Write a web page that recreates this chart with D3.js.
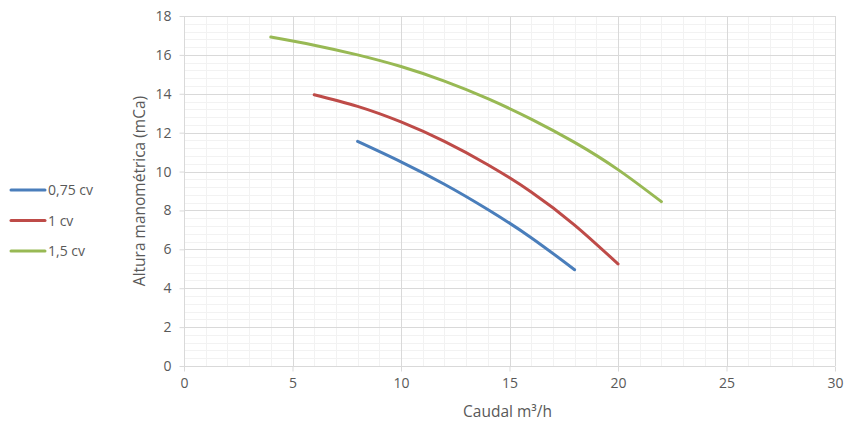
<!DOCTYPE html>
<html><head><meta charset="utf-8">
<script src="https://cdn.jsdelivr.net/npm/d3@7"></script>
<style>body{margin:0;background:#fff;} text{font-family:"Open Sans","Liberation Sans",sans-serif;}</style>
</head><body>
<svg id="c" width="845" height="421"></svg>
<script>
const seriesNames = ["0,75 cv", "1 cv", "1,5 cv"];
const seriesColors = ["#4A7EBB", "#BE4B48", "#98B954"];
const caudal075 = [8, 10, 12, 14, 16, 18];
const altura075 = [11.55, 10.5, 9.35, 8.05, 6.6, 4.95];
const caudal1 = [6, 8, 10, 12, 14, 16, 18, 20];
const altura1 = [13.95, 13.35, 12.55, 11.55, 10.35, 8.95, 7.25, 5.25];
const caudal15 = [4, 6, 8, 10, 12, 14, 16, 18, 20, 22];
const altura15 = [16.92, 16.5, 16.0, 15.4, 14.65, 13.75, 12.7, 11.5, 10.1, 8.45];
const xTicks = [0, 5, 10, 15, 20, 25, 30];
const yTicks = [0, 2, 4, 6, 8, 10, 12, 14, 16, 18];
const xTitle = "Caudal m³/h";
const yTitle = "Altura manométrica (mCa)";

const series = [
  caudal075.map((q, i) => [q, altura075[i]]),
  caudal1.map((q, i) => [q, altura1[i]]),
  caudal15.map((q, i) => [q, altura15[i]])
];

const svg = d3.select("#c");
const x = d3.scaleLinear().domain([0, 30]).range([184, 835]);
const y = d3.scaleLinear().domain([0, 18]).range([366, 16]);

// minor grid
const xMinor = d3.range(0, 30.001, 1).filter(v => v % 5 !== 0);
const yMinor = d3.range(0, 18.001, 0.4).filter(v => Math.abs(v/2 - Math.round(v/2)) > 1e-6);
const g = svg.append("g");
g.selectAll(".xm").data(xMinor).join("line")
  .attr("x1", d => Math.round(x(d)) + 0.5).attr("x2", d => Math.round(x(d)) + 0.5)
  .attr("y1", y(0)).attr("y2", y(18)).attr("stroke", "#F2F2F2");
g.selectAll(".ym").data(yMinor).join("line")
  .attr("y1", d => Math.round(y(d)) + 0.5).attr("y2", d => Math.round(y(d)) + 0.5)
  .attr("x1", x(0)).attr("x2", x(30)).attr("stroke", "#F2F2F2");
// major grid
g.selectAll(".xM").data(xTicks.slice(1)).join("line")
  .attr("x1", d => Math.round(x(d)) + 0.5).attr("x2", d => Math.round(x(d)) + 0.5)
  .attr("y1", y(0)).attr("y2", y(18)).attr("stroke", "#D9D9D9");
g.selectAll(".yM").data(yTicks.slice(1)).join("line")
  .attr("y1", d => Math.round(y(d)) + 0.5).attr("y2", d => Math.round(y(d)) + 0.5)
  .attr("x1", x(0)).attr("x2", x(30)).attr("stroke", "#D9D9D9");

// axes
const xAxis = svg.append("g").attr("transform", `translate(0,${Math.round(y(0)) + 0.5})`)
  .call(d3.axisBottom(x).tickValues(xTicks).tickSize(5).tickPadding(7).tickFormat(d3.format("d")));
const yAxis = svg.append("g").attr("transform", `translate(${Math.round(x(0)) + 0.5},0)`)
  .call(d3.axisLeft(y).tickValues(yTicks).tickSize(5).tickPadding(8).tickFormat(d3.format("d")));
[xAxis, yAxis].forEach(a => {
  a.select(".domain").attr("stroke", "#D9D9D9");
  a.selectAll(".tick line").attr("stroke", "#D9D9D9");
  a.selectAll(".tick text").attr("fill", "#595959").attr("font-size", 14)
    .attr("font-family", "'Open Sans','Liberation Sans',sans-serif");
});
xAxis.select(".domain").attr("d", `M${x(0)},0H${x(30)}`);
yAxis.select(".domain").attr("d", `M0,${y(0)}V${y(18)}`);

// lines
const line = d3.line().x(d => x(d[0])).y(d => y(d[1])).curve(d3.curveNatural);
svg.selectAll(".s").data(series).join("path")
  .attr("d", line).attr("fill", "none")
  .attr("stroke", (d, i) => seriesColors[i]).attr("stroke-width", 3)
  .attr("stroke-linecap", "round").attr("stroke-linejoin", "round");

// titles
svg.append("text").attr("x", (x(0) + x(30)) / 2 - 2).attr("y", 417).attr("text-anchor", "middle")
  .attr("fill", "#595959").attr("font-size", 15.5).text(xTitle);
svg.append("text").attr("transform", `translate(145,${(y(0) + y(18)) / 2}) rotate(-90)`)
  .attr("text-anchor", "middle").attr("fill", "#595959").attr("font-size", 15.5).text(yTitle);

// legend
const leg = svg.append("g");
seriesNames.forEach((n, i) => {
  const ly = 190 + i * 30.5;
  leg.append("line").attr("x1", 11).attr("x2", 45).attr("y1", ly).attr("y2", ly)
    .attr("stroke", seriesColors[i]).attr("stroke-width", 3).attr("stroke-linecap", "round");
  leg.append("text").attr("x", 48).attr("y", ly + 5).attr("fill", "#595959")
    .attr("font-size", 14).text(n);
});
</script>
</body></html>
